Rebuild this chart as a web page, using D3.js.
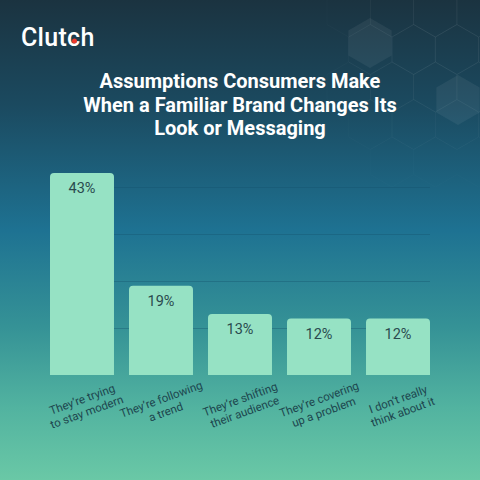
<!DOCTYPE html>
<html>
<head>
<meta charset="utf-8">
<script src="https://cdn.jsdelivr.net/npm/d3@7"></script>
<style>
  html, body { margin: 0; padding: 0; background: #1b3440; }
  svg { display: block; }
</style>
</head>
<body>
<div id="chart"></div>
<script>
// Survey answers and their shares (percent of respondents)
const categories = [
  ["They’re trying", "to stay modern"],
  ["They’re following", "a trend"],
  ["They’re shifting", "their audience"],
  ["They’re covering", "up a problem"],
  ["I don’t really", "think about it"]
];
const values = [43, 19, 13, 12, 12];
const gridTicks = [10, 20, 30, 40];
const titleLines = [
  "Assumptions Consumers Make",
  "When a Familiar Brand Changes Its",
  "Look or Messaging"
];

const W = 480, H = 480;
const FONT = "Roboto, 'Noto Sans', sans-serif";
const svg = d3.select("#chart").append("svg")
  .attr("width", W).attr("height", H);

// Background gradient: deep navy → ocean blue → mint
const defs = svg.append("defs");
const bg = defs.append("linearGradient").attr("id", "bg")
  .attr("x1", 0).attr("y1", 0).attr("x2", 0).attr("y2", 1);
[[0, "#1b3340"], [0.22, "#1b4a60"], [0.48, "#1e7292"], [0.68, "#359296"], [0.85, "#52b3a0"], [1, "#6ac8a6"]]
  .forEach(([o, c]) => bg.append("stop").attr("offset", o).attr("stop-color", c));
svg.append("rect").attr("width", W).attr("height", H).attr("fill", "url(#bg)");

// Decorative honeycomb in the top-right corner
const hexR = 25;
const hexPath = (cx, cy, r) => {
  const pts = d3.range(6).map(i => {
    const a = Math.PI / 180 * (60 * i - 90);
    return [cx + r * Math.cos(a), cy + r * Math.sin(a)];
  });
  return "M" + pts.map(p => p.join(",")).join("L") + "Z";
};
const deco = svg.append("g");
const hexCenters = [];
for (let j = -1; j < 5; j++) {
  for (let i = -1; i < 4; i++) {
    const cx = 392 + i * hexR * Math.sqrt(3) + (j % 2 ? hexR * Math.sqrt(3) / 2 : 0);
    const cy = 12 + j * hexR * 1.5;
    hexCenters.push([cx, cy]);
  }
}
deco.selectAll("path.cell").data(hexCenters).join("path")
  .attr("class", "cell")
  .attr("d", d => hexPath(d[0], d[1], hexR))
  .attr("fill", "none")
  .attr("stroke", "#ffffff")
  .attr("stroke-opacity", d => Math.max(0, 0.05 - Math.hypot(d[0] - 440, d[1] - 40) * 0.0003))
  .attr("stroke-width", 1);
deco.selectAll("path.solid").data([[370, 43], [458, 100]]).join("path")
  .attr("class", "solid")
  .attr("d", d => hexPath(d[0], d[1], hexR))
  .attr("fill", "#ffffff").attr("fill-opacity", 0.06);

// Clutch wordmark with the red dot inside the second "c"
const logoX = 21, logoBase = 46, logoSize = 25;
const logo = svg.append("text")
  .attr("x", logoX).attr("y", logoBase)
  .attr("font-family", FONT)
  .attr("font-size", logoSize).attr("font-weight", 500)
  .attr("letter-spacing", 0.3)
  .attr("fill", "#ffffff")
  .text("Clutch");
const n = logo.node();
const dotX = logoX + n.getSubStringLength(0, 4) + n.getSubStringLength(4, 1) * 0.55;
svg.append("circle")
  .attr("cx", dotX)
  .attr("cy", logoBase - logoSize * 0.2)
  .attr("r", 2.5).attr("fill", "#ef3a2c");

// Title
svg.append("text")
  .attr("text-anchor", "middle")
  .attr("font-family", FONT)
  .attr("font-size", 20).attr("font-weight", 700)
  .attr("fill", "#ffffff")
  .selectAll("tspan").data(titleLines).join("tspan")
  .attr("x", 240).attr("y", (d, i) => 88 + i * 23.5)
  .text(d => d);

// Scales
const x = d3.scaleBand()
  .domain(d3.range(values.length))
  .range([50, 430])
  .paddingInner(0.19).paddingOuter(0);
const y = d3.scaleLinear().domain([0, 45]).range([375, 163.5]);

// Gridlines
svg.append("g")
  .attr("transform", "translate(430,0)")
  .call(d3.axisLeft(y).tickValues(gridTicks).tickSize(430 - 50).tickFormat(""))
  .call(g => g.select(".domain").remove())
  .call(g => g.selectAll(".tick line")
    .attr("stroke", "#14506a").attr("stroke-opacity", 0.35).attr("stroke-width", 1));

// Bars with rounded top corners
const bw = x.bandwidth(), rr = 4;
const barPath = (i, v) => {
  const x0 = x(i), x1 = x0 + bw, y0 = y(v), yb = y(0);
  return `M${x0},${yb}V${y0 + rr}Q${x0},${y0} ${x0 + rr},${y0}H${x1 - rr}Q${x1},${y0} ${x1},${y0 + rr}V${yb}Z`;
};
svg.append("g").selectAll("path").data(values).join("path")
  .attr("d", (v, i) => barPath(i, v))
  .attr("fill", "#96e2c4");

// Value labels inside the bars
svg.append("g").selectAll("text").data(values).join("text")
  .attr("x", (v, i) => x(i) + bw / 2)
  .attr("y", v => y(v) + 20)
  .attr("text-anchor", "middle")
  .attr("font-family", FONT)
  .attr("font-size", 14.5)
  .attr("fill", "#2a4a4e")
  .text(v => v + "%");

// Rotated category labels
const lab = svg.append("g").selectAll("g").data(categories).join("g")
  .attr("transform", (d, i) => `translate(${x(i) + bw / 2 + 1.5},403) rotate(-20)`);
lab.append("text")
  .attr("text-anchor", "middle")
  .attr("font-family", FONT)
  .attr("font-size", 11.5)
  .attr("fill", "#1d464e")
  .selectAll("tspan").data(d => d).join("tspan")
  .attr("x", 0).attr("y", (d, i) => i * 13.5)
  .text(d => d);
</script>
</body>
</html>
